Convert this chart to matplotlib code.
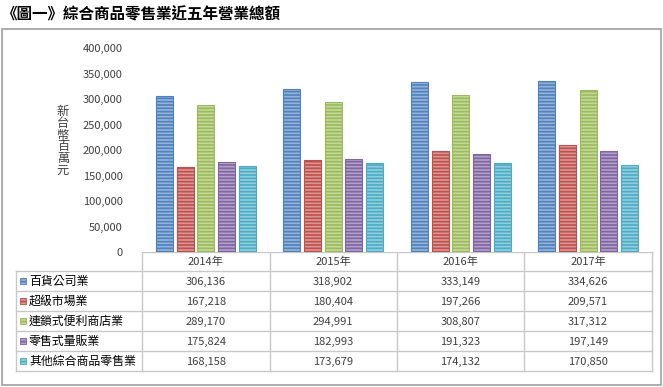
import numpy as np
import matplotlib.pyplot as plt
from matplotlib.patches import Rectangle

plt.rcParams['font.family'] = ['Noto Sans CJK TC', 'DejaVu Sans']

years = ["2014年", "2015年", "2016年", "2017年"]
series = ["百貨公司業", "超級市場業", "連鎖式便利商店業", "零售式量販業", "其他綜合商品零售業"]
dept_store = [306136, 318902, 333149, 334626]
supermarket = [167218, 180404, 197266, 209571]
convenience = [289170, 294991, 308807, 317312]
hypermarket = [175824, 182993, 191323, 197149]
other_retail = [168158, 173679, 174132, 170850]
values = [dept_store, supermarket, convenience, hypermarket, other_retail]
yticks = [0, 50000, 100000, 150000, 200000, 250000, 300000, 350000, 400000]

colors = ["#4F81BD", "#C0504D", "#9BBB59", "#8064A2", "#4BACC6"]
lights = ["#95B3D7", "#DA9694", "#C4D79B", "#B1A0C7", "#92CDDC"]

W, H = 663, 387
fig = plt.figure(figsize=(W / 100, H / 100), dpi=100)
plt.rcParams['hatch.linewidth'] = 1.2

# overlay axes in pixel coordinates for frame and table
ov = fig.add_axes([0, 0, 1, 1])
ov.set_xlim(0, W)
ov.set_ylim(H, 0)
ov.axis("off")

ov.text(2, 14, "《圖一》綜合商品零售業近五年營業總額", fontsize=11.2,
        fontweight="bold", va="center", ha="left", color="#000000")
ov.add_patch(Rectangle((1.5, 28.5), 659, 356.5, fill=False, ec="#A0A0A0", lw=1.2))

# main plot axes
x0, x1, ytop, ybot = 142, 652, 48, 252
ax = fig.add_axes([x0 / W, 1 - ybot / H, (x1 - x0) / W, (ybot - ytop) / H])
ax.set_xlim(-0.5, len(years) - 0.5)
ax.set_ylim(0, 400000)
for s in ax.spines.values():
    s.set_visible(False)
ax.set_xticks([])
ax.set_yticks(yticks)
ax.set_yticklabels([f"{t:,}" for t in yticks], fontsize=8, color="#404040")
ax.tick_params(axis="y", length=0, pad=14)

step = 0.1625
width = 0.133
x = np.arange(len(years))
for i, (vals, c, lc) in enumerate(zip(values, colors, lights)):
    ax.bar(x + (i - 2) * step, vals, width=width, color=lc, edgecolor=c,
           hatch="-----", linewidth=0.8)

ov.text(63, 141, "\n".join("新台幣百萬元"), fontsize=8.8, ha="center", va="center",
        color="#404040", linespacing=0.88)

# data table
grid = "#C8C8C8"
col_x = [142, 269.5, 396.5, 524, 652]
row_y = [252, 271, 291, 311, 331, 351, 371]
left = 16
for cx in col_x:
    ov.plot([cx, cx], [row_y[0], row_y[-1]], color=grid, lw=1)
ov.plot([left, left], [row_y[1], row_y[-1]], color=grid, lw=1)
ov.plot([col_x[0], col_x[-1]], [row_y[0], row_y[0]], color=grid, lw=1)
for ry in row_y[1:]:
    ov.plot([left, col_x[-1]], [ry, ry], color=grid, lw=1)

for j, yr in enumerate(years):
    ov.text((col_x[j] + col_x[j + 1]) / 2, (row_y[0] + row_y[1]) / 2 + 0.5, yr,
            fontsize=8, ha="center", va="center", color="#404040")
for i, (name, vals) in enumerate(zip(series, values)):
    cy = (row_y[i + 1] + row_y[i + 2]) / 2
    ov.add_patch(Rectangle((19.5, cy - 3), 6, 6, facecolor=lights[i], edgecolor=colors[i],
                           hatch="-----", lw=0.6))
    ov.text(29, cy, name, fontsize=8.6, ha="left", va="center", color="#000000")
    for j, v in enumerate(vals):
        ov.text((col_x[j] + col_x[j + 1]) / 2, cy + 0.5, f"{v:,}", fontsize=8,
                ha="center", va="center", color="#404040")

fig.savefig("out.png", dpi=100)
